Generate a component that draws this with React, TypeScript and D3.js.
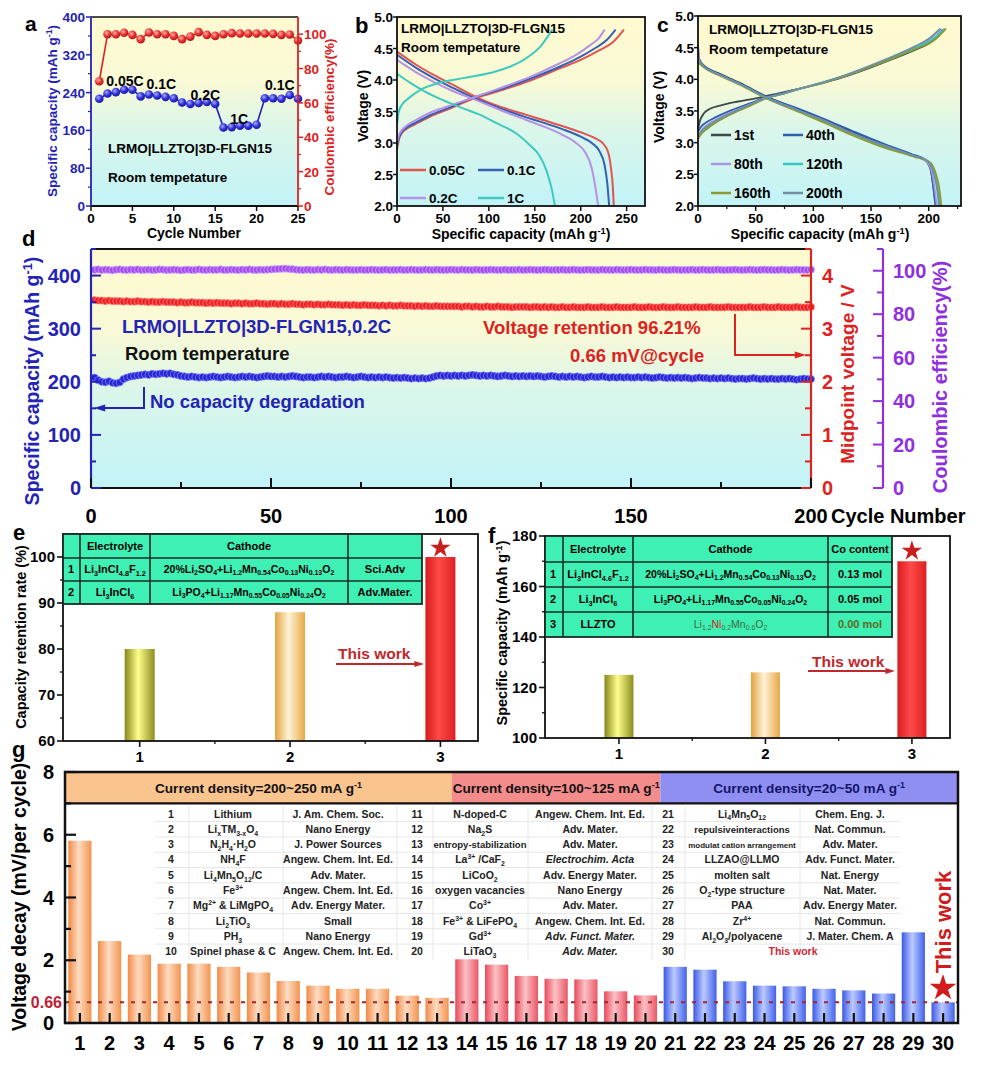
import React from 'react';
import * as d3 from 'd3';

const FONT = 'Arial, "Liberation Sans", Helvetica, sans-serif';
const BLUE = '#2323b5';
const RED = '#dd2222';
const PURPLE = '#8f2fe0';

// ---------- a: rate performance ----------
const rateCapacity = [227, 238, 241, 246, 246, 232, 236, 234, 231, 228, 219, 216, 218, 220, 216, 166, 167, 170, 170, 172, 228, 228, 227, 235, 227];
const rateCE = [72.6, 100, 100, 100.8, 99.6, 97.1, 101, 100, 100, 99, 97.1, 98.6, 101.2, 99.6, 99, 100, 100.6, 100.4, 100.4, 100.4, 100.4, 100.2, 99.6, 99.8, 96.3];
const aCapTicks = [0, 80, 160, 240, 320, 400];
const aCETicks = [0, 20, 40, 60, 80, 100];
const aCycleTicks = [0, 5, 10, 15, 20, 25];

// ---------- b: charge/discharge profiles at different rates ----------
const bCharge005: [number, number][] = [[0, 2.9], [2, 3.05], [5, 3.15], [10, 3.22], [20, 3.3], [36, 3.42], [55, 3.53], [83, 3.7], [110, 3.82], [145, 3.99], [180, 4.2], [200, 4.32], [220, 4.47], [235, 4.6], [247, 4.8]];
const bCharge01: [number, number][] = [[0, 2.95], [2, 3.08], [5, 3.17], [10, 3.24], [20, 3.32], [36, 3.44], [55, 3.55], [83, 3.72], [110, 3.84], [145, 4.02], [180, 4.23], [200, 4.37], [215, 4.5], [228, 4.63], [238, 4.8]];
const bCharge02: [number, number][] = [[0, 3.0], [2, 3.12], [5, 3.2], [10, 3.27], [20, 3.36], [36, 3.48], [55, 3.58], [83, 3.72], [110, 3.86], [145, 4.05], [175, 4.25], [195, 4.4], [210, 4.55], [220, 4.67], [226, 4.8]];
const bCharge1: [number, number][] = [[0, 3.3], [2, 3.5], [6, 3.62], [11, 3.69], [25, 3.84], [47, 3.96], [72, 4.03], [101, 4.11], [123, 4.21], [141, 4.35], [156, 4.53], [169, 4.8]];
const bDis005: [number, number][] = [[0, 4.45], [20, 4.25], [40, 4.08], [60, 3.93], [83, 3.75], [100, 3.64], [120, 3.54], [140, 3.45], [160, 3.36], [180, 3.27], [200, 3.17], [215, 3.08], [225, 2.98], [230, 2.85], [233, 2.6], [235, 2.3], [236, 2.0]];
const bDis01: [number, number][] = [[0, 4.4], [20, 4.2], [40, 4.03], [60, 3.88], [83, 3.72], [100, 3.62], [120, 3.51], [140, 3.41], [160, 3.32], [180, 3.22], [200, 3.1], [212, 3.0], [220, 2.88], [226, 2.65], [229, 2.35], [231, 2.0]];
const bDis02: [number, number][] = [[0, 4.32], [20, 4.13], [40, 3.97], [60, 3.83], [83, 3.7], [100, 3.6], [120, 3.48], [140, 3.37], [160, 3.26], [180, 3.13], [195, 3.0], [205, 2.85], [212, 2.6], [216, 2.3], [219, 2.0]];
const bDis1: [number, number][] = [[0, 4.1], [15, 3.95], [30, 3.82], [50, 3.68], [72, 3.55], [90, 3.45], [109, 3.31], [130, 3.15], [145, 2.96], [155, 2.8], [163, 2.55], [168, 2.3], [172, 2.0]];
const bRates = ['0.05C', '0.1C', '0.2C', '1C'];
const bTicksX = [0, 50, 100, 150, 200, 250];
const vTicks = [2.0, 2.5, 3.0, 3.5, 4.0, 4.5, 5.0];

// ---------- c: profiles at different cycles ----------
const c1stCharge: [number, number][] = [[0, 3.22], [2, 3.36], [5, 3.46], [10, 3.53], [20, 3.59], [35, 3.65], [50, 3.7], [70, 3.78], [90, 3.86], [110, 3.95], [130, 4.06], [150, 4.19], [170, 4.33], [190, 4.48], [203, 4.6], [212, 4.78]];
const c40Charge: [number, number][] = [[0, 3.18], [3, 3.26], [8, 3.33], [15, 3.4], [30, 3.52], [45, 3.62], [58, 3.71], [75, 3.79], [90, 3.86], [110, 3.96], [130, 4.07], [150, 4.2], [170, 4.34], [190, 4.5], [203, 4.62], [213, 4.79]];
const c80Charge: [number, number][] = [[0, 3.12], [3, 3.2], [8, 3.28], [15, 3.36], [30, 3.49], [45, 3.6], [58, 3.7], [75, 3.78], [90, 3.86], [110, 3.96], [130, 4.07], [150, 4.21], [170, 4.35], [188, 4.5], [200, 4.62], [211, 4.8]];
const c120Charge: [number, number][] = [[0, 3.08], [3, 3.16], [8, 3.24], [15, 3.33], [30, 3.47], [45, 3.59], [58, 3.7], [75, 3.78], [90, 3.86], [110, 3.96], [130, 4.08], [150, 4.21], [170, 4.36], [190, 4.51], [203, 4.63], [214, 4.8]];
const c160Charge: [number, number][] = [[0, 3.06], [3, 3.14], [8, 3.22], [15, 3.31], [30, 3.46], [45, 3.58], [58, 3.69], [75, 3.78], [90, 3.86], [110, 3.95], [130, 4.07], [150, 4.2], [170, 4.34], [190, 4.49], [205, 4.62], [215, 4.8]];
const c200Charge: [number, number][] = [[0, 3.1], [3, 3.18], [8, 3.26], [15, 3.34], [30, 3.48], [45, 3.6], [58, 3.7], [75, 3.78], [90, 3.86], [110, 3.96], [130, 4.08], [150, 4.22], [170, 4.37], [188, 4.52], [200, 4.64], [210, 4.8]];
const c1stDis: [number, number][] = [[0, 4.55], [1, 4.33], [5, 4.22], [20, 4.08], [40, 3.91], [58, 3.74], [88, 3.52], [110, 3.36], [132, 3.18], [160, 2.98], [185, 2.81], [197, 2.72], [202, 2.55], [204, 2.3], [206, 2.0]];
const c40Dis: [number, number][] = [[0, 4.3], [5, 4.21], [20, 4.07], [40, 3.9], [58, 3.73], [88, 3.53], [110, 3.37], [132, 3.2], [160, 2.99], [185, 2.82], [197, 2.73], [202, 2.56], [204, 2.3], [206, 2.0]];
const c80Dis: [number, number][] = [[0, 4.5], [1, 4.3], [5, 4.2], [20, 4.06], [40, 3.89], [58, 3.72], [88, 3.5], [110, 3.34], [132, 3.16], [160, 2.96], [185, 2.8], [198, 2.7], [203, 2.52], [205, 2.3], [207, 2.0]];
const c120Dis: [number, number][] = [[0, 4.29], [5, 4.2], [20, 4.06], [40, 3.89], [58, 3.72], [88, 3.5], [110, 3.33], [132, 3.15], [160, 2.95], [186, 2.79], [200, 2.7], [205, 2.52], [208, 2.3], [210, 2.0]];
const c160Dis: [number, number][] = [[0, 4.27], [5, 4.19], [20, 4.05], [40, 3.88], [58, 3.71], [88, 3.48], [110, 3.31], [132, 3.13], [160, 2.93], [187, 2.78], [201, 2.69], [206, 2.52], [209, 2.3], [211, 2.0]];
const c200Dis: [number, number][] = [[0, 4.3], [5, 4.2], [20, 4.06], [40, 3.89], [58, 3.72], [88, 3.5], [110, 3.34], [132, 3.16], [160, 2.96], [186, 2.8], [199, 2.71], [204, 2.53], [207, 2.3], [209, 2.0]];
const cCycles = ['1st', '40th', '80th', '120th', '160th', '200th'];
const cTicksX = [0, 50, 100, 150, 200];

// ---------- d: long cycling ----------
const dCapacity = [
  208, 203, 200, 199, 201, 198, 197, 199, 205, 208,
  210, 211, 212, 213, 214, 213, 215, 214, 215, 216,
  215, 216, 214, 213, 211, 210, 209, 210, 209, 208,
  209, 208, 209, 210, 209, 208, 209, 210, 209, 208,
  209, 210, 209, 210, 209, 208, 209, 210, 211, 210,
  210, 209, 210, 209, 210, 211, 210, 209, 208, 209,
  209, 208, 209, 210, 209, 210, 209, 208, 209, 209,
  210, 209, 208, 209, 210, 209, 208, 209, 208, 209,
  208, 209, 208, 207, 208, 207, 208, 207, 206, 207,
  206, 207, 206, 207, 209, 211, 212, 211, 212, 211,
  212, 211, 212, 211, 212, 213, 212, 211, 212, 211,
  212, 211, 210, 211, 212, 211, 210, 211, 210, 211,
  210, 211, 210, 211, 210, 209, 210, 211, 210, 209,
  210, 209, 210, 209, 210, 209, 208, 209, 210, 209,
  209, 210, 209, 208, 209, 208, 209, 208, 209, 208,
  208, 209, 208, 209, 208, 207, 208, 209, 208, 207,
  208, 207, 208, 207, 208, 207, 206, 207, 208, 207,
  207, 206, 207, 206, 207, 206, 207, 206, 205, 206,
  206, 205, 206, 207, 206, 205, 206, 205, 206, 205,
  205, 206, 205, 206, 205, 204, 205, 206, 205, 205,
];
const dMidVoltage = [
  3.54, 3.53, 3.53, 3.52, 3.53, 3.52, 3.52, 3.52, 3.51, 3.52,
  3.51, 3.51, 3.52, 3.51, 3.51, 3.50, 3.51, 3.50, 3.50, 3.51,
  3.50, 3.50, 3.50, 3.49, 3.50, 3.49, 3.49, 3.50, 3.49, 3.49,
  3.49, 3.48, 3.49, 3.48, 3.49, 3.48, 3.48, 3.48, 3.47, 3.48,
  3.48, 3.47, 3.48, 3.47, 3.47, 3.48, 3.47, 3.47, 3.46, 3.47,
  3.47, 3.46, 3.47, 3.46, 3.46, 3.47, 3.46, 3.46, 3.45, 3.46,
  3.46, 3.45, 3.46, 3.45, 3.45, 3.46, 3.45, 3.45, 3.45, 3.44,
  3.45, 3.44, 3.45, 3.44, 3.44, 3.45, 3.44, 3.44, 3.44, 3.43,
  3.44, 3.43, 3.44, 3.43, 3.43, 3.44, 3.43, 3.43, 3.43, 3.42,
  3.43, 3.42, 3.43, 3.42, 3.42, 3.43, 3.42, 3.42, 3.42, 3.42,
  3.42, 3.42, 3.41, 3.42, 3.42, 3.41, 3.42, 3.41, 3.41, 3.42,
  3.41, 3.41, 3.42, 3.41, 3.41, 3.41, 3.40, 3.41, 3.41, 3.41,
  3.41, 3.40, 3.41, 3.41, 3.40, 3.41, 3.40, 3.41, 3.40, 3.40,
  3.41, 3.40, 3.40, 3.41, 3.40, 3.40, 3.40, 3.41, 3.40, 3.40,
  3.40, 3.41, 3.40, 3.40, 3.40, 3.41, 3.40, 3.40, 3.40, 3.40,
  3.41, 3.40, 3.40, 3.40, 3.41, 3.40, 3.40, 3.40, 3.41, 3.40,
  3.40, 3.40, 3.41, 3.40, 3.40, 3.40, 3.40, 3.41, 3.40, 3.40,
  3.40, 3.41, 3.40, 3.40, 3.40, 3.40, 3.41, 3.40, 3.40, 3.40,
  3.40, 3.40, 3.41, 3.40, 3.40, 3.40, 3.41, 3.40, 3.40, 3.40,
  3.41, 3.40, 3.40, 3.40, 3.40, 3.41, 3.40, 3.40, 3.40, 3.41,
];
const dCE = [
  100.4, 100.6, 100.3, 100.5, 100.4, 100.2, 100.5, 100.6, 100.4, 100.3,
  100.5, 100.4, 100.6, 100.3, 100.4, 100.5, 100.3, 100.4, 100.6, 100.5,
  100.3, 100.4, 100.5, 100.4, 100.2, 100.4, 100.5, 100.3, 100.4, 100.6,
  100.4, 100.3, 100.5, 100.4, 100.4, 100.6, 100.3, 100.4, 100.5, 100.4,
  100.3, 100.5, 100.4, 100.6, 100.4, 100.3, 100.5, 100.4, 100.5, 100.6,
  100.7, 100.8, 100.9, 101.0, 100.8, 100.7, 100.5, 100.4, 100.3, 100.5,
  100.4, 100.3, 100.5, 100.4, 100.6, 100.4, 100.3, 100.5, 100.4, 100.3,
  100.5, 100.4, 100.3, 100.4, 100.5, 100.3, 100.4, 100.5, 100.4, 100.3,
  100.4, 100.5, 100.3, 100.4, 100.4, 100.5, 100.3, 100.4, 100.5, 100.4,
  100.3, 100.4, 100.5, 100.4, 100.3, 100.5, 100.4, 100.3, 100.4, 100.5,
  100.4, 100.3, 100.5, 100.4, 100.4, 100.3, 100.5, 100.4, 100.3, 100.4,
  100.5, 100.4, 100.3, 100.4, 100.5, 100.3, 100.4, 100.4, 100.5, 100.3,
  100.4, 100.5, 100.4, 100.3, 100.4, 100.5, 100.4, 100.3, 100.4, 100.4,
  100.5, 100.3, 100.4, 100.5, 100.4, 100.3, 100.4, 100.5, 100.4, 100.4,
  100.3, 100.5, 100.4, 100.4, 100.3, 100.5, 100.4, 100.3, 100.4, 100.5,
  100.4, 100.3, 100.4, 100.5, 100.4, 100.4, 100.3, 100.5, 100.4, 100.3,
  100.4, 100.5, 100.4, 100.3, 100.4, 100.4, 100.5, 100.3, 100.4, 100.5,
  100.4, 100.3, 100.4, 100.5, 100.4, 100.3, 100.4, 100.4, 100.5, 100.4,
  100.3, 100.4, 100.5, 100.4, 100.3, 100.4, 100.5, 100.4, 100.4, 100.3,
  100.4, 100.5, 100.4, 100.3, 100.4, 100.5, 100.4, 100.4, 100.3, 100.5,
];
const dCapTicks = [0, 100, 200, 300, 400];
const dVTicks = [0, 1, 2, 3, 4];
const dCETicks = [0, 20, 40, 60, 80, 100];
const dCycleTicks = [0, 50, 100, 150, 200];

// ---------- e: capacity retention comparison ----------
const eCategories = [1, 2, 3];
const eRetention = [80, 88, 100];
const eTicks = [60, 70, 80, 90, 100];
const eHead = ['', 'Electrolyte', 'Cathode', ''];
const eRows = [
  ['1', 'Li_3InCl_{4.8}F_{1.2}', '20%Li_2SO_4+Li_{1.2}Mn_{0.54}Co_{0.13}Ni_{0.13}O_2', 'Sci.Adv'],
  ['2', 'Li_3InCl_6', 'Li_3PO_4+Li_{1.17}Mn_{0.55}Co_{0.05}Ni_{0.24}O_2', 'Adv.Mater.'],
];

// ---------- f: specific capacity comparison ----------
const fCategories = [1, 2, 3];
const fCapacity = [125, 126, 170];
const fTicks = [100, 120, 140, 160, 180];
const fHead = ['', 'Electrolyte', 'Cathode', 'Co content'];
const fRows = [
  ['1', 'Li_3InCl_{4.6}F_{1.2}', '20%Li_2SO_4+Li_{1.2}Mn_{0.54}Co_{0.13}Ni_{0.13}O_2', '0.13 mol'],
  ['2', 'Li_3InCl_6', 'Li_3PO_4+Li_{1.17}Mn_{0.55}Co_{0.05}Ni_{0.24}O_2', '0.05 mol'],
  ['3', 'LLZTO', 'Li_{1.2}§Ni§_{0.2}Mn_{0.6}O_2', '0.00 mol'],
];

// ---------- g: voltage decay comparison ----------
const gIndex = ['1', '2', '3', '4', '5', '6', '7', '8', '9', '10', '11', '12', '13', '14', '15', '16', '17', '18', '19', '20', '21', '22', '23', '24', '25', '26', '27', '28', '29', '30'];
const gDecay = [5.81, 2.61, 2.18, 1.89, 1.89, 1.79, 1.61, 1.34, 1.19, 1.09, 1.09, 0.87, 0.8, 2.03, 1.86, 1.5, 1.41, 1.39, 1.01, 0.88, 1.79, 1.7, 1.33, 1.19, 1.17, 1.09, 1.04, 0.94, 2.89, 0.66];
const gGroupEnds = [13, 20, 30];
const gGroupLabels = ['Current density=200~250 mA g^{-1}', 'Current density=100~125 mA g^{-1}', 'Current density=20~50 mA g^{-1}'];
const gTicks = [0, 2, 4, 6, 8];
const gNames = [
  'Lithium', 'Li_xTM_{3-x}O_4', 'N_2H_4·H_2O', 'NH_4F', 'Li_4Mn_5O_{12}/C', 'Fe^{3+}', 'Mg^{2+} & LiMgPO_4', 'Li_2TiO_3', 'PH_3', 'Spinel phase & C',
  'N-doped-C', 'Na_2S', 'entropy-stabilization', 'La^{3+} /CaF_2', 'LiCoO_2', 'oxygen vacancies', 'Co^{3+}', 'Fe^{3+} & LiFePO_4', 'Gd^{3+}', 'LiTaO_3',
  'Li_4Mn_5O_{12}', 'repulsiveinteractions', 'modulat cation arrangement', 'LLZAO@LLMO', 'molten salt', 'O_2-type structure', 'PAA', 'Zr^{4+}', 'Al_2O_3/polyacene', 'This work',
];
const gJournals = [
  'J. Am. Chem. Soc.', 'Nano Energy', 'J. Power Sources', 'Angew. Chem. Int. Ed.', 'Adv. Mater.', 'Angew. Chem. Int. Ed.', 'Adv. Energy Mater.', 'Small', 'Nano Energy', 'Angew. Chem. Int. Ed.',
  'Angew. Chem. Int. Ed.', 'Adv. Mater.', 'Adv. Mater.', 'Electrochim. Acta', 'Adv. Energy Mater.', 'Nano Energy', 'Adv. Mater.', 'Angew. Chem. Int. Ed.', 'Adv. Funct. Mater.', 'Adv. Mater.',
  'Chem. Eng. J.', 'Nat. Commun.', 'Adv. Mater.', 'Adv. Funct. Mater.', 'Nat. Energy', 'Nat. Mater.', 'Adv. Energy Mater.', 'Nat. Commun.', 'J. Mater. Chem. A', '',
];
const gItalic = [14, 19, 20];

// ---------- text helpers ----------
type Seg = { t: string; m: number; red: boolean };

function parseChem(s: string): Seg[] {
  const out: Seg[] = [];
  let i = 0;
  let buf = '';
  let red = false;
  const flush = () => {
    if (buf) out.push({ t: buf, m: 0, red });
    buf = '';
  };
  while (i < s.length) {
    const ch = s[i];
    if (ch === '_' || ch === '^') {
      flush();
      let tok = '';
      if (s[i + 1] === '{') {
        const j = s.indexOf('}', i + 2);
        tok = s.slice(i + 2, j);
        i = j + 1;
      } else {
        tok = s[i + 1];
        i += 2;
      }
      out.push({ t: tok, m: ch === '_' ? 1 : 2, red });
    } else if (ch === '§') {
      flush();
      red = !red;
      i++;
    } else {
      buf += ch;
      i++;
    }
  }
  flush();
  return out;
}

function Chem({ text, x, y, size, anchor = 'start', fill = '#000', weight = 'bold', italic = false }: any) {
  const segs = parseChem(text);
  let cur = 0;
  return (
    <text x={x} y={y} fontSize={size} textAnchor={anchor} fill={fill} fontWeight={weight} fontStyle={italic ? 'italic' : 'normal'}>
      {segs.map((s, k) => {
        const target = s.m === 1 ? size * 0.28 : s.m === 2 ? -size * 0.38 : 0;
        const dy = target - cur;
        cur = target;
        return (
          <tspan key={k} dy={dy} fontSize={s.m ? size * 0.66 : size} fill={s.red ? '#d42020' : undefined}>
            {s.t}
          </tspan>
        );
      })}
    </text>
  );
}

function VChem({ x, y, text, size, fill = '#000' }: any) {
  return (
    <g transform={`translate(${x},${y}) rotate(-90)`}>
      <Chem x={0} y={0} text={text} size={size} anchor="middle" fill={fill} />
    </g>
  );
}

function Label({ x, y, children, size = 22 }: any) {
  return (
    <text x={x} y={y} fontSize={size} fontWeight="bold">
      {children}
    </text>
  );
}

function Arrow({ x1, x2, y, color, head = 8 }: any) {
  const dir = x2 > x1 ? 1 : -1;
  return (
    <g>
      <line x1={x1} x2={x2 - dir * head} y1={y} y2={y} stroke={color} strokeWidth={2} />
      <path d={`M${x2},${y} L${x2 - dir * head * 1.6},${y - head / 2} L${x2 - dir * head * 1.6},${y + head / 2} Z`} fill={color} />
    </g>
  );
}

const starPath = (size: number) => d3.symbol().type(d3.symbolStar).size(size)() ?? '';

function Defs() {
  const barGrad = (id: string, edge: string, mid: string, edge2?: string) => (
    <linearGradient id={id} x1="0" y1="0" x2="1" y2="0">
      <stop offset="0" stopColor={edge} />
      <stop offset="0.45" stopColor={mid} />
      <stop offset="1" stopColor={edge2 ?? edge} />
    </linearGradient>
  );
  const ball = (id: string, light: string, base: string, dark: string) => (
    <radialGradient id={id} cx="0.38" cy="0.35" r="0.7">
      <stop offset="0" stopColor={light} />
      <stop offset="0.55" stopColor={base} />
      <stop offset="1" stopColor={dark} />
    </radialGradient>
  );
  return (
    <defs>
      <linearGradient id="bgGrad" x1="0" y1="0" x2="0" y2="1">
        <stop offset="0" stopColor="#fffad0" />
        <stop offset="0.35" stopColor="#f8f9d6" />
        <stop offset="0.6" stopColor="#daf6ea" />
        <stop offset="1" stopColor="#c2f3f7" />
      </linearGradient>
      {ball('ballBlue', '#a8a8ff', '#3030d8', '#14149a')}
      {ball('ballRed', '#ffb0a8', '#e83030', '#a81414')}
      {barGrad('eBar1', '#86861a', '#ffff8c', '#8c8c20')}
      {barGrad('eBar2', '#e2a23e', '#fff3d8', '#e6a846')}
      {barGrad('eBar3', '#d81c1c', '#ff4a4a', '#dc2020')}
      {barGrad('gBar0', '#f28a46', '#fddcc2', '#f39450')}
      {barGrad('gBar1', '#e84858', '#fbc2c6', '#ea5866')}
      {barGrad('gBar2', '#3a58e6', '#bccaff', '#4262ea')}
    </defs>
  );
}

// ---------- panel a ----------
function PanelA() {
  const x = d3.scaleLinear().domain([0, 25]).range([91, 298]);
  const yL = d3.scaleLinear().domain([0, 400]).range([206, 17]);
  const yR = d3.scaleLinear().domain([0, 110]).range([206, 17]);
  const capPath = d3.line<number>().x((_, i) => x(i + 1)).y((d) => yL(d))(rateCapacity) ?? '';
  const cePath = d3.line<number>().x((_, i) => x(i + 1)).y((d) => yR(d))(rateCE) ?? '';
  const minorL = [40, 120, 200, 280, 360];
  const minorR = [10, 30, 50, 70, 90];
  return (
    <g>
      <rect x={91} y={17} width={207} height={189} fill="url(#bgGrad)" />
      <path d={capPath} fill="none" stroke={BLUE} strokeWidth={1.6} />
      <path d={cePath} fill="none" stroke={RED} strokeWidth={1.6} />
      {rateCapacity.map((v, i) => (
        <circle key={'b' + i} cx={x(i + 1)} cy={yL(v)} r={4.3} fill="url(#ballBlue)" />
      ))}
      {rateCE.map((v, i) => (
        <circle key={'r' + i} cx={x(i + 1)} cy={yR(v)} r={4.3} fill="url(#ballRed)" />
      ))}
      <line x1={91} x2={298} y1={17} y2={17} stroke="#111" strokeWidth={1.6} />
      <line x1={91} x2={298} y1={206} y2={206} stroke="#111" strokeWidth={1.8} />
      <line x1={91} x2={91} y1={17} y2={206} stroke={BLUE} strokeWidth={1.8} />
      <line x1={298} x2={298} y1={17} y2={206} stroke={RED} strokeWidth={1.8} />
      {aCapTicks.map((t) => (
        <g key={'l' + t}>
          <line x1={86} x2={91} y1={yL(t)} y2={yL(t)} stroke={BLUE} strokeWidth={1.5} />
          <text x={85} y={yL(t) + 5} textAnchor="end" fontSize={13.5} fontWeight="bold" fill={BLUE}>{t}</text>
        </g>
      ))}
      {minorL.map((t) => (
        <line key={'lm' + t} x1={88} x2={91} y1={yL(t)} y2={yL(t)} stroke={BLUE} strokeWidth={1.2} />
      ))}
      {aCETicks.map((t) => (
        <g key={'r' + t}>
          <line x1={298} x2={303} y1={yR(t)} y2={yR(t)} stroke={RED} strokeWidth={1.5} />
          <text x={304} y={yR(t) + 5} fontSize={13.5} fontWeight="bold" fill={RED}>{t}</text>
        </g>
      ))}
      {minorR.map((t) => (
        <line key={'rm' + t} x1={298} x2={301} y1={yR(t)} y2={yR(t)} stroke={RED} strokeWidth={1.2} />
      ))}
      {aCycleTicks.map((t) => (
        <g key={'x' + t}>
          <line x1={x(t)} x2={x(t)} y1={206} y2={211} stroke="#111" strokeWidth={1.5} />
          <text x={x(t)} y={223} textAnchor="middle" fontSize={13.5} fontWeight="bold">{t}</text>
        </g>
      ))}
      <text x={194} y={238} textAnchor="middle" fontSize={14} fontWeight="bold">Cycle Number</text>
      <VChem x={57} y={111} text="Specific capacity (mAh g^{-1})" size={13.5} fill={BLUE} />
      <VChem x={334} y={117} text="Coulombic efficiency(%)" size={13.5} fill={RED} />
      <text x={x(4.1)} y={yL(253)} textAnchor="middle" fontSize={14} fontWeight="bold">{bRates[0]}</text>
      <text x={x(8.5)} y={yL(247)} textAnchor="middle" fontSize={14} fontWeight="bold">{bRates[1]}</text>
      <text x={x(13.8)} y={yL(225)} textAnchor="middle" fontSize={14} fontWeight="bold">{bRates[2]}</text>
      <text x={x(17.9)} y={yL(174)} textAnchor="middle" fontSize={14} fontWeight="bold">{bRates[3]}</text>
      <text x={x(22.8)} y={yL(245)} textAnchor="middle" fontSize={14} fontWeight="bold">{bRates[1]}</text>
      <text x={108} y={153} fontSize={13.5} fontWeight="bold">LRMO|LLZTO|3D-FLGN15</text>
      <text x={108} y={182} fontSize={13.5} fontWeight="bold">Room tempetature</text>
      <Label x={25} y={31} size={21}>a</Label>
    </g>
  );
}

// ---------- panel b ----------
function PanelB() {
  const x = d3.scaleLinear().domain([0, 270]).range([397, 645]);
  const y = d3.scaleLinear().domain([2, 5]).range([206, 17]);
  const line = d3.line<[number, number]>().x((d) => x(d[0])).y((d) => y(d[1])).curve(d3.curveMonotoneX);
  const colors = ['#e2554e', '#3560b4', '#b592e4', '#3cc9bf'];
  const series = [
    [bCharge005, bDis005],
    [bCharge01, bDis01],
    [bCharge02, bDis02],
    [bCharge1, bDis1],
  ];
  const legendPos = [
    [400, 170],
    [478, 170],
    [400, 198],
    [478, 198],
  ];
  return (
    <g>
      <rect x={397} y={17} width={248} height={189} fill="url(#bgGrad)" />
      {series.map((s, i) => (
        <g key={i}>
          <path d={line(s[0]) ?? ''} fill="none" stroke={colors[i]} strokeWidth={2} />
          <path d={line(s[1]) ?? ''} fill="none" stroke={colors[i]} strokeWidth={2} />
        </g>
      ))}
      <rect x={397} y={17} width={248} height={189} fill="none" stroke="#111" strokeWidth={1.8} />
      {vTicks.map((t) => (
        <g key={t}>
          <line x1={393} x2={397} y1={y(t)} y2={y(t)} stroke="#111" strokeWidth={1.5} />
          <text x={393} y={y(t) + 5} textAnchor="end" fontSize={13.5} fontWeight="bold">{t.toFixed(1)}</text>
        </g>
      ))}
      {bTicksX.map((t) => (
        <g key={'x' + t}>
          <line x1={x(t)} x2={x(t)} y1={206} y2={211} stroke="#111" strokeWidth={1.5} />
          <text x={x(t)} y={223} textAnchor="middle" fontSize={13.5} fontWeight="bold">{t}</text>
        </g>
      ))}
      <Chem x={521} y={239} text="Specific capacity (mAh g^{-1})" size={14} anchor="middle" />
      <VChem x={368} y={106} text="Voltage (V)" size={14} />
      <text x={401} y={33} fontSize={13.5} fontWeight="bold">LRMO|LLZTO|3D-FLGN15</text>
      <text x={401} y={52} fontSize={13.5} fontWeight="bold">Room tempetature</text>
      {bRates.map((r, i) => (
        <g key={r}>
          <line x1={legendPos[i][0]} x2={legendPos[i][0] + 26} y1={legendPos[i][1]} y2={legendPos[i][1]} stroke={colors[i]} strokeWidth={2.5} />
          <text x={legendPos[i][0] + 29} y={legendPos[i][1] + 5} fontSize={13.5} fontWeight="bold">{r}</text>
        </g>
      ))}
      <Label x={355} y={33} size={22}>b</Label>
    </g>
  );
}

// ---------- panel c ----------
function PanelC() {
  const x = d3.scaleLinear().domain([0, 228]).range([698, 961]);
  const y = d3.scaleLinear().domain([2, 5]).range([206, 16]);
  const line = d3.line<[number, number]>().x((d) => x(d[0])).y((d) => y(d[1])).curve(d3.curveMonotoneX);
  const colors = ['#3c4a48', '#2f5fb0', '#a898e2', '#38c6c4', '#8c9c2c', '#7090a2'];
  const series = [
    [c1stCharge, c1stDis],
    [c40Charge, c40Dis],
    [c80Charge, c80Dis],
    [c120Charge, c120Dis],
    [c160Charge, c160Dis],
    [c200Charge, c200Dis],
  ];
  const minor = [25, 75, 125, 175, 225];
  return (
    <g>
      <rect x={698} y={16} width={263} height={190} fill="url(#bgGrad)" />
      {series.map((s, i) => (
        <g key={i}>
          <path d={line(s[0]) ?? ''} fill="none" stroke={colors[i]} strokeWidth={1.8} />
          <path d={line(s[1]) ?? ''} fill="none" stroke={colors[i]} strokeWidth={1.8} />
        </g>
      ))}
      <rect x={698} y={16} width={263} height={190} fill="none" stroke="#111" strokeWidth={1.8} />
      {vTicks.map((t) => (
        <g key={t}>
          <line x1={694} x2={698} y1={y(t)} y2={y(t)} stroke="#111" strokeWidth={1.5} />
          <text x={694} y={y(t) + 5} textAnchor="end" fontSize={13.5} fontWeight="bold">{t.toFixed(1)}</text>
        </g>
      ))}
      {cTicksX.map((t) => (
        <g key={'x' + t}>
          <line x1={x(t)} x2={x(t)} y1={206} y2={211} stroke="#111" strokeWidth={1.5} />
          <text x={x(t)} y={223} textAnchor="middle" fontSize={13.5} fontWeight="bold">{t}</text>
        </g>
      ))}
      {minor.map((t) => (
        <line key={'m' + t} x1={x(t)} x2={x(t)} y1={206} y2={209} stroke="#111" strokeWidth={1.2} />
      ))}
      <Chem x={820} y={239} text="Specific capacity (mAh g^{-1})" size={14} anchor="middle" />
      <VChem x={664} y={107} text="Voltage (V)" size={14} />
      <text x={709} y={34} fontSize={13.5} fontWeight="bold">LRMO|LLZTO|3D-FLGN15</text>
      <text x={709} y={54} fontSize={13.5} fontWeight="bold">Room tempetature</text>
      {cCycles.map((c, i) => {
        const lx = i % 2 === 0 ? 711 : 783;
        const ly = 135 + Math.floor(i / 2) * 29;
        return (
          <g key={c}>
            <line x1={lx} x2={lx + 20} y1={ly} y2={ly} stroke={colors[i]} strokeWidth={2.5} />
            <text x={lx + 23} y={ly + 5} fontSize={14} fontWeight="bold">{c}</text>
          </g>
        );
      })}
      <Label x={657} y={32} size={21}>c</Label>
    </g>
  );
}

// ---------- panel d ----------
function PanelD() {
  const x = d3.scaleLinear().domain([0, 200]).range([91, 811]);
  const yC = d3.scaleLinear().domain([0, 450]).range([488, 249]);
  const yV = d3.scaleLinear().domain([0, 4.5]).range([488, 249]);
  const yE = d3.scaleLinear().domain([0, 110]).range([488, 249]);
  const cycleMinor = [25, 75, 125, 175];
  const capMinor = [50, 150, 250, 350, 450];
  const vMinor = [0.5, 1.5, 2.5, 3.5, 4.5];
  const ceMinor = [10, 30, 50, 70, 90, 110];
  return (
    <g>
      <rect x={91} y={249} width={720} height={239} fill="url(#bgGrad)" />
      {dCE.map((v, i) => (
        <circle key={'e' + i} cx={x(i + 1)} cy={yE(v)} r={3.6} fill="#a24cf4" stroke="#d8b0ff" strokeWidth={0.7} />
      ))}
      {dMidVoltage.map((v, i) => (
        <circle key={'v' + i} cx={x(i + 1)} cy={yV(v)} r={3.6} fill="#f02020" stroke="#ff9090" strokeWidth={0.7} />
      ))}
      {dCapacity.map((v, i) => (
        <circle key={'c' + i} cx={x(i + 1)} cy={yC(v)} r={3.6} fill="#2626d4" stroke="#8c8cff" strokeWidth={0.7} />
      ))}
      <line x1={91} x2={811} y1={249} y2={249} stroke="#111" strokeWidth={2} />
      <line x1={91} x2={811} y1={488} y2={488} stroke="#111" strokeWidth={2.2} />
      <line x1={91} x2={91} y1={249} y2={488} stroke={BLUE} strokeWidth={2.2} />
      <line x1={811} x2={811} y1={249} y2={488} stroke={RED} strokeWidth={2.2} />
      <line x1={883} x2={883} y1={249} y2={488} stroke={PURPLE} strokeWidth={2.2} />
      {dCapTicks.map((t) => (
        <g key={'c' + t}>
          <line x1={91} x2={101} y1={yC(t)} y2={yC(t)} stroke={BLUE} strokeWidth={2} />
          <text x={81} y={yC(t) + 7} textAnchor="end" fontSize={20} fontWeight="bold" fill={BLUE}>{t}</text>
        </g>
      ))}
      {capMinor.map((t) => (
        <line key={'cm' + t} x1={91} x2={96} y1={yC(t)} y2={yC(t)} stroke={BLUE} strokeWidth={2} />
      ))}
      {dVTicks.map((t) => (
        <g key={'v' + t}>
          <line x1={801} x2={811} y1={yV(t)} y2={yV(t)} stroke={RED} strokeWidth={2} />
          <text x={822} y={yV(t) + 7} fontSize={20} fontWeight="bold" fill={RED}>{t}</text>
        </g>
      ))}
      {vMinor.map((t) => (
        <line key={'vm' + t} x1={805} x2={811} y1={yV(t)} y2={yV(t)} stroke={RED} strokeWidth={2} />
      ))}
      {dCETicks.map((t) => (
        <g key={'e' + t}>
          <line x1={873} x2={883} y1={yE(t)} y2={yE(t)} stroke={PURPLE} strokeWidth={2} />
          <text x={893} y={yE(t) + 7} fontSize={20} fontWeight="bold" fill={PURPLE}>{t}</text>
        </g>
      ))}
      {ceMinor.map((t) => (
        <line key={'em' + t} x1={877} x2={883} y1={yE(t)} y2={yE(t)} stroke={PURPLE} strokeWidth={2} />
      ))}
      {dCycleTicks.map((t) => (
        <g key={'x' + t}>
          <line x1={x(t)} x2={x(t)} y1={488} y2={478} stroke="#111" strokeWidth={2} />
          <text x={x(t)} y={523} textAnchor="middle" fontSize={20} fontWeight="bold">{t}</text>
        </g>
      ))}
      {cycleMinor.map((t) => (
        <line key={'xm' + t} x1={x(t)} x2={x(t)} y1={488} y2={482} stroke="#111" strokeWidth={2} />
      ))}
      <text x={831} y={523} fontSize={20} fontWeight="bold">Cycle Number</text>
      <VChem x={39} y={381} text="Specific capacity (mAh g^{-1})" size={19.5} fill={BLUE} />
      <VChem x={854} y={374} text="Midpoint voltage / V" size={19} fill={RED} />
      <VChem x={947} y={377} text="Coulombic efficiency(%)" size={20} fill={PURPLE} />
      <text x={122} y={333} fontSize={18.5} fontWeight="bold" fill={BLUE}>LRMO|LLZTO|3D-FLGN15,0.2C</text>
      <text x={125} y={360} fontSize={18.5} fontWeight="bold" fill="#111">Room temperature</text>
      <text x={150} y={408} fontSize={18.5} fontWeight="bold" fill={BLUE}>No capacity degradation</text>
      <line x1={144} x2={144} y1={387} y2={409} stroke={BLUE} strokeWidth={2} />
      <Arrow x1={145} x2={94} y={408} color={BLUE} head={7} />
      <text x={483} y={334} fontSize={18.5} fontWeight="bold" fill={RED}>Voltage retention 96.21%</text>
      <text x={570} y={362} fontSize={18.5} fontWeight="bold" fill={RED}>0.66 mV@cycle</text>
      <line x1={735} x2={735} y1={314} y2={356} stroke={RED} strokeWidth={2} />
      <Arrow x1={734} x2={806} y={355} color={RED} head={7} />
      <Label x={22} y={246} size={22}>d</Label>
    </g>
  );
}

// ---------- table helper for e/f ----------
function GreenTable({ cols, rows, head, data, fill }: any) {
  return (
    <g>
      <rect x={cols[0]} y={rows[0]} width={cols[cols.length - 1] - cols[0]} height={rows[rows.length - 1] - rows[0]} fill={fill} stroke="#1c2c24" strokeWidth={1.8} />
      {cols.slice(1, -1).map((c: number) => (
        <line key={'c' + c} x1={c} x2={c} y1={rows[0]} y2={rows[rows.length - 1]} stroke="#1c2c24" strokeWidth={1.6} />
      ))}
      {rows.slice(1, -1).map((r: number) => (
        <line key={'r' + r} x1={cols[0]} x2={cols[cols.length - 1]} y1={r} y2={r} stroke="#1c2c24" strokeWidth={1.6} />
      ))}
      {head.map((h: string, j: number) => (
        <text key={'h' + j} x={(cols[j] + cols[j + 1]) / 2} y={(rows[0] + rows[1]) / 2 + 4} textAnchor="middle" fontSize={11} fontWeight="bold">{h}</text>
      ))}
      {data.map((row: string[], i: number) =>
        row.map((cell, j) => {
          const special = i === 2;
          const color = special && j === 2 ? '#3d6b45' : special && j === 3 ? '#5e6a22' : '#000';
          return (
            <Chem
              key={i + '-' + j}
              x={j === 0 ? cols[0] + 8 : (cols[j] + cols[j + 1]) / 2}
              y={(rows[i + 1] + rows[i + 2]) / 2 + 3}
              text={cell}
              size={j === 2 ? 10.5 : 11}
              anchor="middle"
              fill={color}
              weight={special && j === 2 ? 'normal' : 'bold'}
            />
          );
        }),
      )}
    </g>
  );
}

// ---------- panel e ----------
function PanelE() {
  const x = d3.scaleLinear().domain([0.49, 3.25]).range([63, 478]);
  const y = d3.scaleLinear().domain([60, 105]).range([741, 534]);
  const bw = 30;
  const minorY = [65, 75, 85, 95];
  return (
    <g>
      {eRetention.map((v, i) => (
        <rect key={i} x={x(eCategories[i]) - bw / 2} y={y(v)} width={bw} height={y(60) - y(v)} fill={`url(#eBar${i + 1})`} />
      ))}
      <rect x={63} y={534} width={415} height={207} fill="none" stroke="#111" strokeWidth={1.8} />
      <GreenTable cols={[63, 80, 150, 348, 422]} rows={[534, 558, 581, 604]} head={eHead} data={eRows} fill="#3ff0b4" />
      {eTicks.map((t) => (
        <g key={t}>
          <line x1={57} x2={63} y1={y(t)} y2={y(t)} stroke="#111" strokeWidth={1.6} />
          <text x={55} y={y(t) + 5} textAnchor="end" fontSize={15} fontWeight="bold">{t}</text>
        </g>
      ))}
      {minorY.map((t) => (
        <line key={'m' + t} x1={60} x2={63} y1={y(t)} y2={y(t)} stroke="#111" strokeWidth={1.3} />
      ))}
      {eCategories.map((c) => (
        <g key={'x' + c}>
          <line x1={x(c)} x2={x(c)} y1={741} y2={747} stroke="#111" strokeWidth={1.6} />
          <text x={x(c)} y={762} textAnchor="middle" fontSize={15} fontWeight="bold">{c}</text>
        </g>
      ))}
      {[1.5, 2.5].map((c) => (
        <line key={'xm' + c} x1={x(c)} x2={x(c)} y1={741} y2={744} stroke="#111" strokeWidth={1.3} />
      ))}
      <VChem x={26} y={637} text="Capacity retention rate (%)" size={14.5} />
      <path d={starPath(130)} transform={`translate(${x(3)},${548})`} fill="#c81e1e" />
      <text x={338} y={659} fontSize={15.5} fontWeight="bold" fill="#c0282e">This work</text>
      <Arrow x1={336} x2={424} y={664} color="#c0282e" head={6} />
      <Label x={13} y={540} size={22}>e</Label>
    </g>
  );
}

// ---------- panel f ----------
function PanelF() {
  const x = d3.scaleLinear().domain([0.495, 3.26]).range([545, 950]);
  const y = d3.scaleLinear().domain([100, 180]).range([738, 536]);
  const bw = 29;
  const minorY = [110, 130, 150, 170];
  return (
    <g>
      {fCapacity.map((v, i) => (
        <rect key={i} x={x(fCategories[i]) - bw / 2} y={y(v)} width={bw} height={y(100) - y(v)} fill={`url(#eBar${i + 1})`} />
      ))}
      <rect x={545} y={536} width={405} height={202} fill="none" stroke="#111" strokeWidth={1.8} />
      <GreenTable cols={[545, 563, 633, 828, 892]} rows={[536, 562, 587, 612, 637]} head={fHead} data={fRows} fill="#3ff0b4" />
      {fTicks.map((t) => (
        <g key={t}>
          <line x1={539} x2={545} y1={y(t)} y2={y(t)} stroke="#111" strokeWidth={1.6} />
          <text x={537} y={y(t) + 5} textAnchor="end" fontSize={15} fontWeight="bold">{t}</text>
        </g>
      ))}
      {minorY.map((t) => (
        <line key={'m' + t} x1={542} x2={545} y1={y(t)} y2={y(t)} stroke="#111" strokeWidth={1.3} />
      ))}
      {fCategories.map((c) => (
        <g key={'x' + c}>
          <line x1={x(c)} x2={x(c)} y1={738} y2={744} stroke="#111" strokeWidth={1.6} />
          <text x={x(c)} y={759} textAnchor="middle" fontSize={15} fontWeight="bold">{c}</text>
        </g>
      ))}
      {[1.5, 2.5].map((c) => (
        <line key={'xm' + c} x1={x(c)} x2={x(c)} y1={738} y2={741} stroke="#111" strokeWidth={1.3} />
      ))}
      <VChem x={507} y={633} text="Specific capacity (mAh g^{-1})" size={14.5} />
      <path d={starPath(130)} transform={`translate(${x(3)},${551})`} fill="#c81e1e" />
      <text x={812} y={667} fontSize={15.5} fontWeight="bold" fill="#c0282e">This work</text>
      <Arrow x1={808} x2={895} y={671} color="#c0282e" head={6} />
      <Label x={488} y={543} size={22}>f</Label>
    </g>
  );
}

// ---------- panel g ----------
function PanelG() {
  const x = d3.scaleBand<string>().domain(gIndex).range([65, 958]).paddingInner(0.22).paddingOuter(0.11);
  const y = d3.scaleLinear().domain([0, 8]).range([1023, 772]);
  const bw = x.bandwidth();
  const gap = x.step() - bw;
  const bounds = [65, ...gGroupEnds.slice(0, -1).map((e) => (x(String(e)) ?? 0) + bw + gap / 2), 958];
  const groupOf = (n: number) => gGroupEnds.findIndex((e) => n <= e);
  const bandColors = ['#f9c48e', '#f58c8c', '#8f8ff2'];
  const bandText = ['#111', '#111', '#14146a'];
  const cols = [
    { num: 171, name: 233, jour: 338 },
    { num: 417, name: 480, jour: 590 },
    { num: 668, name: 742, jour: 850 },
  ];
  const rowY = (i: number) => 814 + i * 15.3;
  const vlines = [189, 283, 397, 433, 528, 652, 685, 800];
  const nameSize = (s: string) => (s.length > 22 ? 8 : s.length > 18 ? 9.5 : 10.5);
  return (
    <g>
      {bounds.slice(0, -1).map((b, k) => (
        <g key={'band' + k}>
          <rect x={b} y={y(8)} width={bounds[k + 1] - b} height={y(7) - y(8)} fill={bandColors[k]} />
          <Chem x={(b + bounds[k + 1]) / 2} y={y(7.5) + 5} text={gGroupLabels[k]} size={13.6} anchor="middle" fill={bandText[k]} />
        </g>
      ))}
      {d3.range(9).map((i) => (
        <line key={'hl' + i} x1={155} x2={900} y1={rowY(i) + 7.65} y2={rowY(i) + 7.65} stroke="#e6e6e6" strokeWidth={1} />
      ))}
      {vlines.map((v) => (
        <line key={'vl' + v} x1={v} x2={v} y1={806} y2={960} stroke="#e6e6e6" strokeWidth={1} />
      ))}
      {gIndex.map((idx, i) => {
        const g = Math.floor(i / 10);
        const r = i % 10;
        const c = cols[g];
        const yy = rowY(r) + 3.5;
        const isThis = i === 29;
        return (
          <g key={'t' + idx}>
            <text x={c.num} y={yy} textAnchor="middle" fontSize={10.5} fontWeight="bold" fill="#222">{idx}</text>
            {isThis ? (
              <text x={793} y={yy} textAnchor="middle" fontSize={10.5} fontWeight="bold" fill="#d0283a">{gNames[i]}</text>
            ) : (
              <Chem x={c.name} y={yy} text={gNames[i]} size={nameSize(gNames[i])} anchor="middle" fill="#222" />
            )}
            <text
              x={c.jour}
              y={yy}
              textAnchor="middle"
              fontSize={10.5}
              fontWeight="bold"
              fill="#222"
              fontStyle={gItalic.includes(i + 1) ? 'italic' : 'normal'}
            >
              {gJournals[i]}
            </text>
          </g>
        );
      })}
      {gDecay.map((v, i) => (
        <rect key={'bar' + i} x={x(gIndex[i])} y={y(v)} width={bw} height={y(0) - y(v)} fill={`url(#gBar${groupOf(i + 1)})`} />
      ))}
      <line x1={65} x2={958} y1={y(0.66)} y2={y(0.66)} stroke="#a02434" strokeWidth={2} strokeDasharray="4,7" />
      {gIndex.map((idx) => (
        <g key={'xt' + idx}>
          <line x1={(x(idx) ?? 0) + bw / 2} x2={(x(idx) ?? 0) + bw / 2} y1={1023} y2={1013} stroke="#111" strokeWidth={2.2} />
          <text x={(x(idx) ?? 0) + bw / 2} y={1050} textAnchor="middle" fontSize={20} fontWeight="bold">{idx}</text>
        </g>
      ))}
      <rect x={65} y={772} width={893} height={251} fill="none" stroke="#111" strokeWidth={2.5} />
      <line x1={65} x2={958} y1={y(7)} y2={y(7)} stroke="#111" strokeWidth={2.2} />
      {gTicks.map((t) => (
        <g key={'y' + t}>
          <line x1={65} x2={76} y1={y(t)} y2={y(t)} stroke="#111" strokeWidth={2.2} />
          <text x={54} y={y(t) + 7} textAnchor="end" fontSize={20} fontWeight="bold">{t}</text>
        </g>
      ))}
      {[1, 3, 5, 7].map((t) => (
        <line key={'ym' + t} x1={65} x2={71} y1={y(t)} y2={y(t)} stroke="#111" strokeWidth={2.2} />
      ))}
      <text x={62} y={y(0.66) + 6} textAnchor="end" fontSize={16} fontWeight="bold" fill="#c02034">0.66</text>
      <VChem x={26} y={897} text="Voltage decay (mV/per cycle)" size={19.5} />
      <g transform={`translate(951,922) rotate(-90)`}>
        <text x={0} y={0} textAnchor="middle" fontSize={22} fontWeight="bold" fill="#d01c1c">This work</text>
      </g>
      <path d={starPath(220)} transform="translate(943,988)" fill="#d01c1c" />
      <Label x={12} y={757} size={22}>g</Label>
    </g>
  );
}

export default function App() {
  return (
    <div style={{ width: 989, height: 1071, background: '#fff' }}>
      <style>{'body{margin:0;background:#fff}'}</style>
      <svg width={989} height={1071} fontFamily={FONT} style={{ display: 'block' }}>
        <Defs />
        <PanelA />
        <PanelB />
        <PanelC />
        <PanelD />
        <PanelE />
        <PanelF />
        <PanelG />
      </svg>
    </div>
  );
}
